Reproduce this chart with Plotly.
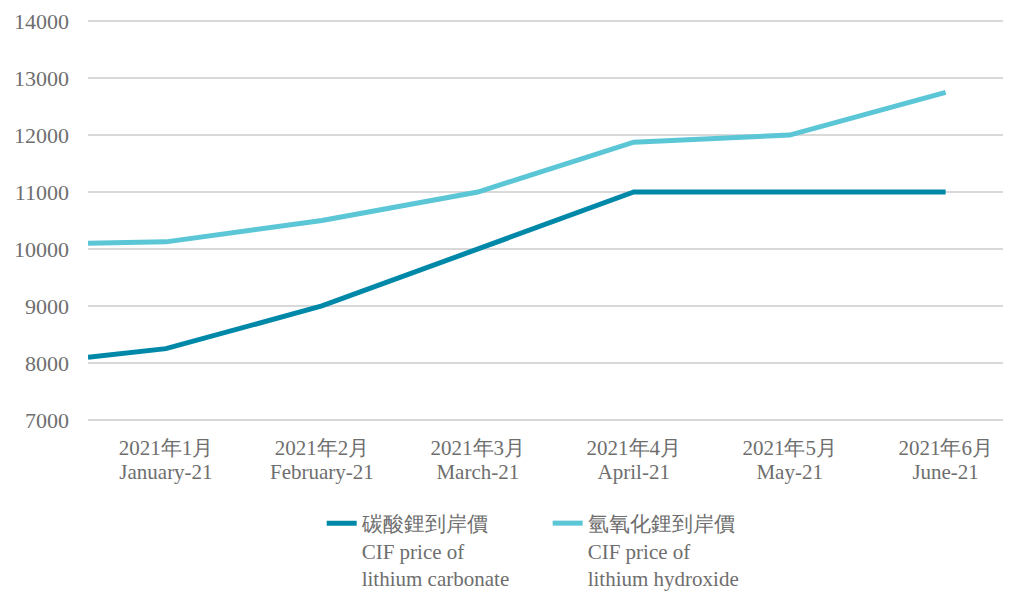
import plotly.graph_objects as go

# Data
x_values = [0.5, 1, 2, 3, 4, 5, 6]
tick_vals = [1, 2, 3, 4, 5, 6]
tick_labels_zh = ["2021年1月", "2021年2月", "2021年3月", "2021年4月", "2021年5月", "2021年6月"]
tick_labels_en = ["January-21", "February-21", "March-21", "April-21", "May-21", "June-21"]
y_ticks = [7000, 8000, 9000, 10000, 11000, 12000, 13000, 14000]
carbonate = [8100, 8250, 9000, 10000, 11000, 11000, 11000]
hydroxide = [10100, 10125, 10500, 11000, 11875, 12000, 12750]
name_carbonate = "碳酸鋰到岸價<br>CIF price of<br>lithium carbonate"
name_hydroxide = "氫氧化鋰到岸價<br>CIF price of<br>lithium hydroxide"

FONT = "Liberation Serif, Times New Roman, serif"
GRAY = "#6e6e6e"

fig = go.Figure()
fig.add_trace(go.Scatter(x=x_values, y=carbonate, mode="lines", name=name_carbonate,
                         line=dict(color="#0088A9", width=5)))
fig.add_trace(go.Scatter(x=x_values, y=hydroxide, mode="lines", name=name_hydroxide,
                         line=dict(color="#5BC6D6", width=5)))
# invisible helper trace on the second x axis so it renders its tick labels
fig.add_trace(go.Scatter(x=[tick_vals[0]], y=[None], xaxis="x2", showlegend=False,
                         hoverinfo="skip", mode="lines"))

axis_common = dict(range=[0.5, 6.4], tickvals=tick_vals, showgrid=False, zeroline=False,
                   showline=False, automargin=False, ticks="")

fig.update_layout(
    width=1003, height=584,
    margin=dict(l=80, r=3, t=12, b=171),
    plot_bgcolor="white", paper_bgcolor="white",
    font=dict(family=FONT, color=GRAY, size=22),
    xaxis=dict(**axis_common, ticktext=tick_labels_zh,
               tickfont=dict(family=FONT, size=21, color=GRAY), ticklabelstandoff=12),
    xaxis2=dict(**axis_common, ticktext=tick_labels_en, overlaying="x", side="bottom",
                anchor="y", tickfont=dict(family=FONT, size=21, color=GRAY),
                ticklabelstandoff=36),
    yaxis=dict(range=[6980, 14020], tickvals=y_ticks, tickformat="d",
               showgrid=True, gridcolor="#D9D9D9", gridwidth=1.5,
               zeroline=False, showline=False, automargin=False,
               ticklabeloverflow="allow",
               tickfont=dict(family=FONT, size=22, color=GRAY), ticks="",
               ticklabelstandoff=18),
    legend=dict(orientation="h", x=0.254, y=0.1524, yref="container",
                xanchor="left", yanchor="top", entrywidth=181,
                valign="top", font=dict(size=21, color=GRAY, family=FONT),
                tracegroupgap=0),
    showlegend=True,
)

fig.write_html("out.html")
